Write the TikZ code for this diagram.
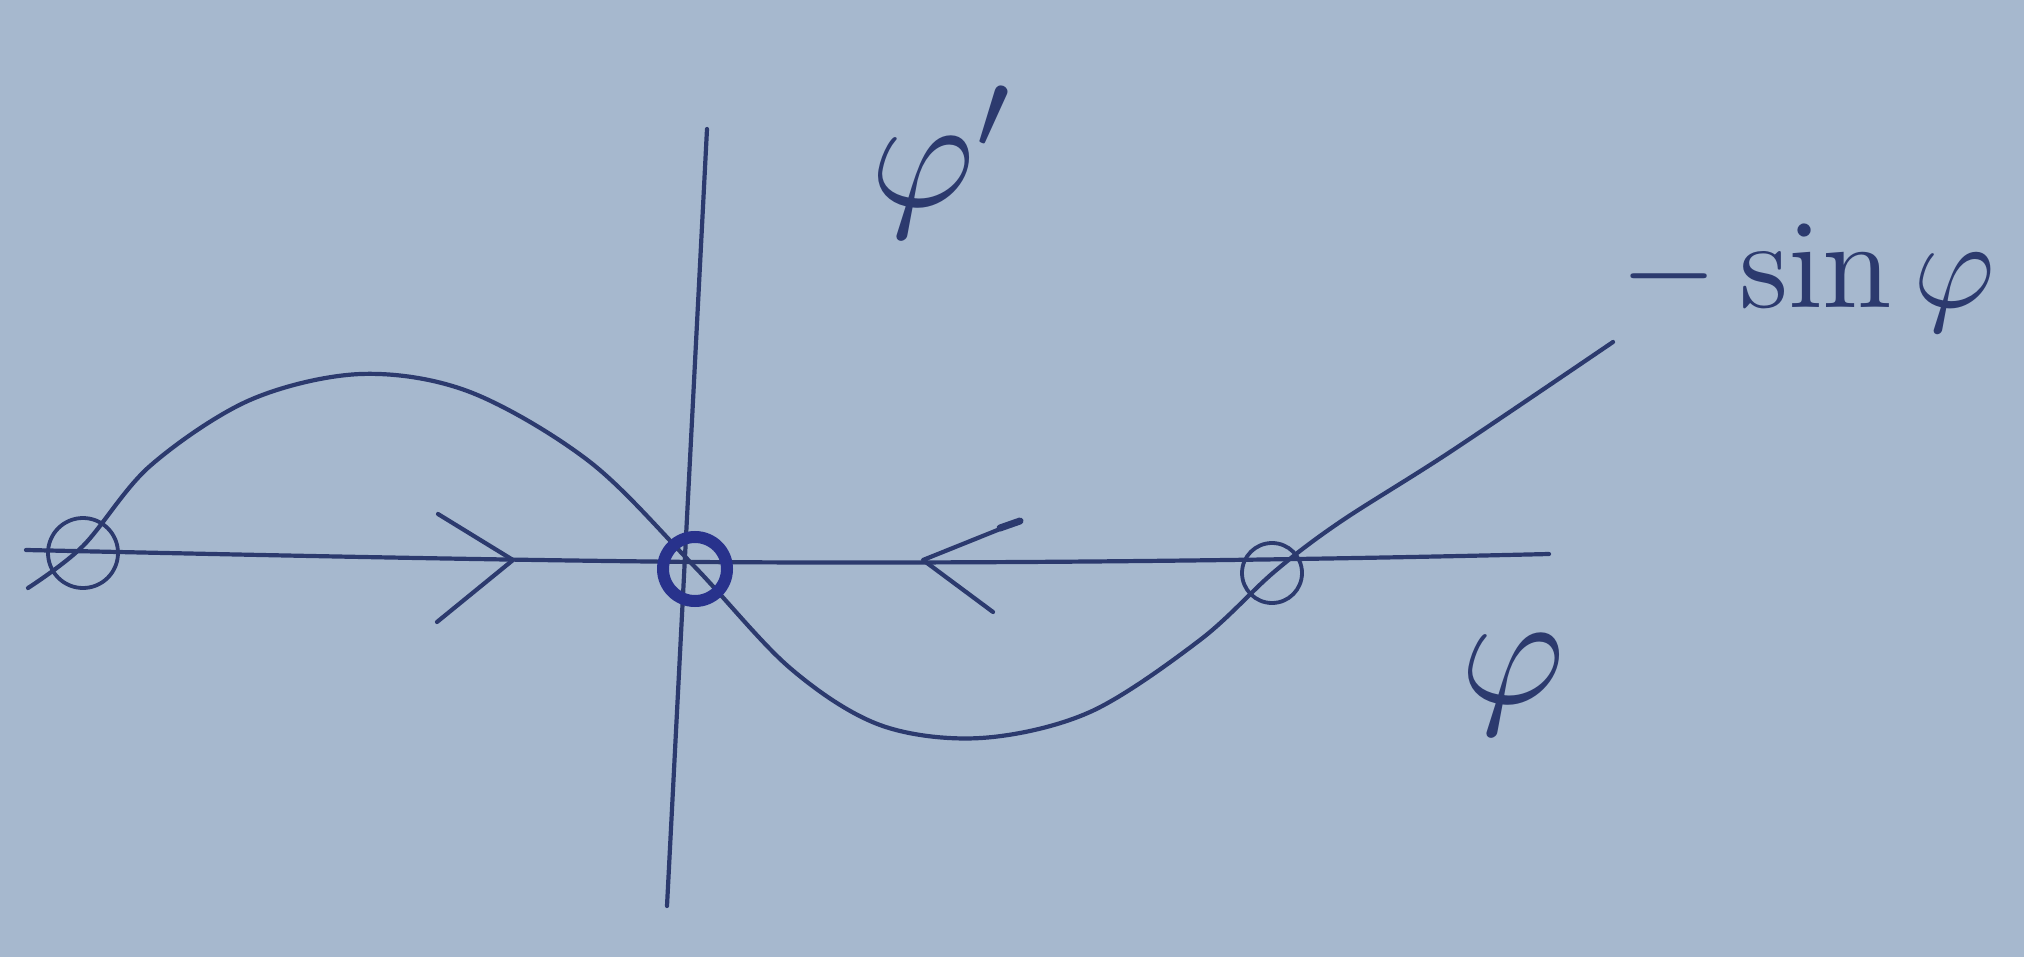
\documentclass[tikz,border=0pt]{standalone}
\usepackage{amsmath}
\begin{document}
\begin{tikzpicture}[x=1pt,y=-1pt,
  ink/.style={draw=inkc, line width=4.2pt, line cap=round, line join=round},
  fixpt/.style={circle, draw=inkc, line width=3.8pt, inner sep=0pt},
  lbl/.style={text=inkc, inner sep=0pt}]
\definecolor{paper}{RGB}{166,184,206}
\definecolor{inkc}{RGB}{44,58,110}
\definecolor{dotc}{RGB}{40,50,140}
\fill[paper] (0,0) rectangle (2024,957);
\useasboundingbox (0,0) rectangle (2024,957);
% axes
\coordinate (hl) at (26,550);
\coordinate (hm) at (694,562);
\coordinate (hr) at (1549,554);
\coordinate (vt) at (707,129);
\coordinate (vb) at (667,906);
\draw[ink] (hl) .. controls (300,556) and (500,560) .. (hm) .. controls (1000,564) and (1300,560) .. (hr);
\draw[ink] (vt) -- (vb);
% curve -sin phi
\draw[ink] plot[smooth, tension=0.55] coordinates {(28,588) (83,546) (150,466) (250,400) (361,374) (470,392) (590,462) (694,566) (790,668) (880,725) (981,738) (1090,712) (1200,640) (1274,572) (1340,522) (1450,452) (1613,342)};
% fixed points
\node[fixpt, minimum size=70pt] (p1) at (83,553) {};
\node[fixpt, minimum size=64pt, draw=dotc, line width=12pt] (p0) at (695,569) {};
\node[fixpt, minimum size=60pt] (p2) at (1272,573) {};
% direction arrows
\coordinate (a1t) at (513,560);
\coordinate (a1u) at (438,514);
\coordinate (a1d) at (437,622);
\draw[ink] (a1u) -- (a1t) -- (a1d);
\coordinate (a2t) at (923,560);
\coordinate (a2u) at (1020,521);
\coordinate (a2d) at (993,612);
\draw[ink] (a2u) -- (a2t) -- (a2d);
\draw[ink, line width=7pt] (1000,528) -- (1020,521);
% labels
\node[lbl, scale=16] (yl) at (945,162) {$\varphi'$};
\node[lbl, scale=12.5] (fl) at (1808,278) {$-\sin\varphi$};
\node[lbl, scale=16] (xl) at (1513,685) {$\varphi$};
\end{tikzpicture}
\end{document}
